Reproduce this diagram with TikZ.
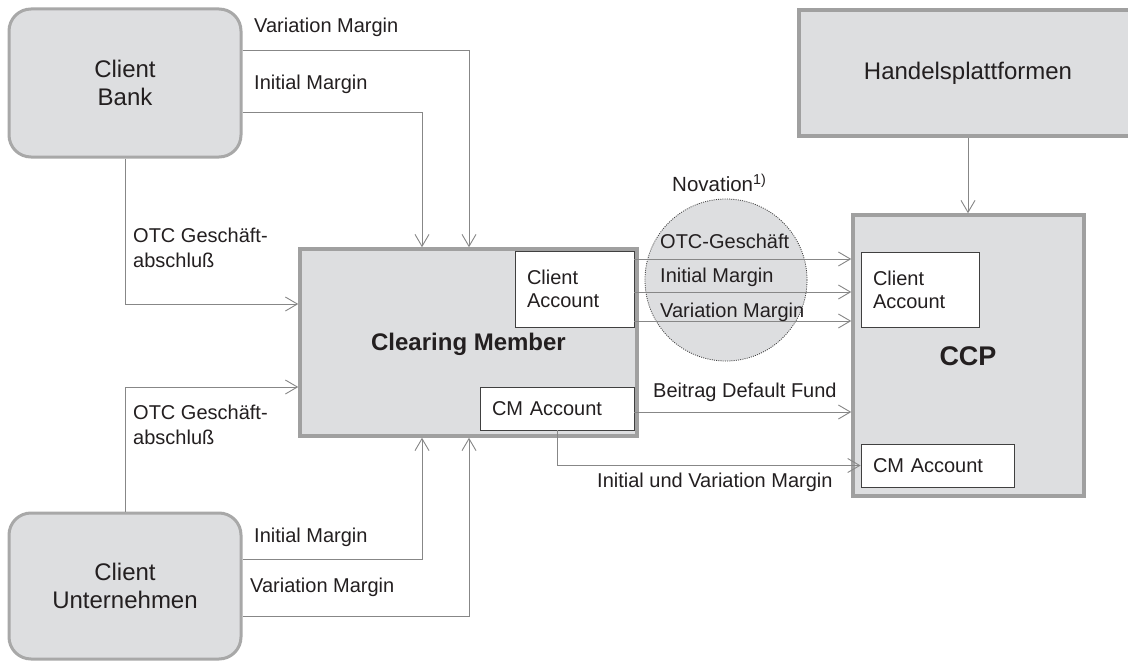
\documentclass[tikz,border=0pt]{standalone}
\usepackage{fontspec}
\setmainfont{Liberation Sans}
\usetikzlibrary{arrows.meta}
\definecolor{boxfill}{RGB}{221,222,224}
\definecolor{rbord}{RGB}{168,168,168}
\definecolor{sbord}{RGB}{160,160,160}
\definecolor{lin}{RGB}{135,135,135}
\definecolor{txt}{RGB}{35,31,32}
\tikzset{
  rbox/.style={draw=rbord, line width=3pt, fill=boxfill, rounded corners=22pt,
    minimum width=232pt, minimum height=148pt, align=center,
    font=\fontsize{24}{28.5}\selectfont, text=txt},
  sbox/.style={draw=sbord, line width=3.5pt, fill=boxfill, text=txt},
  acct/.style={draw=black!75, line width=0.8pt, fill=white, align=left,
    inner xsep=12pt, inner ysep=0pt, font=\fontsize{20}{23}\selectfont, text=txt},
  lbl/.style={anchor=west, inner sep=0pt, font=\fontsize{20}{25}\selectfont,
    text=txt, align=left},
  arr/.style={draw=lin, line width=0.9pt, -{Straight Barb[length=12pt,width=14pt]}}
}
\begin{document}
\begin{tikzpicture}[x=1pt,y=-1pt]
\clip (0,0) rectangle (1128,661);
\fill[white] (0,0) rectangle (1128,661);

% main boxes
\node[rbox] (cb) at (125,83) {Client\\Bank};
\node[rbox, minimum height=146pt] (cu) at (125,586) {Client\\Unternehmen};
\node[sbox, minimum width=337pt, minimum height=187pt] (cm) at (468.5,342.5) {};
\node[text=txt, font=\bfseries\fontsize{24}{28}\selectfont, inner sep=0pt] (cmlbl) at (468.5,344) {Clearing Member};
\node[acct, text width=95pt, minimum height=76pt] (ca1) at (574.5,289) {Client\\Account};
\node[acct, text width=130pt, minimum height=43pt] (cma1) at (557,408.5) {CM Account};

\node[sbox, minimum width=231pt, minimum height=281pt] (ccp) at (968.5,355.5) {};
\node[text=txt, font=\bfseries\fontsize{27}{30}\selectfont, inner sep=0pt] (ccplbl) at (968,356) {CCP};
\node[acct, text width=94pt, minimum height=75pt] (ca2) at (920,289.5) {Client\\Account};
\node[acct, text width=129pt, minimum height=43pt] (cma2) at (937.5,465.5) {CM Account};

\node[sbox, minimum width=338pt, minimum height=126pt, font=\fontsize{24}{28}\selectfont] (hp) at (968,73) {Handelsplattformen};

% novation circle
\node[circle, minimum size=162pt, draw=black!75, fill=boxfill, line width=0.8pt,
  dash pattern=on 1pt off 1.2pt] (nov) at (726,280) {};
\node[lbl, font=\fontsize{20.5}{24}\selectfont] (novlbl) at (672,183) {Novation\textsuperscript{1)}};

% connectors from Client Bank
\draw[arr] (cb.east |- 0,50) -| (469,0 |- cm.north);
\draw[arr] (cb.east |- 0,112) -| (422,0 |- cm.north);
\draw[arr] (cb.south) |- (cm.west |- 0,304);
% connectors from Client Unternehmen
\draw[arr] (cu.north) |- (cm.west |- 0,387);
\draw[arr] (cu.east |- 0,559) -| (422,0 |- cm.south);
\draw[arr] (cu.east |- 0,616) -| (469,0 |- cm.south);
% Clearing Member to CCP
\draw[arr] (ca1.east |- 0,259) -- (ccp.west |- 0,259);
\draw[arr] (ca1.east |- 0,292) -- (ccp.west |- 0,292);
\draw[arr] (ca1.east |- 0,321) -- (ccp.west |- 0,321);
\draw[arr] (cma1.east |- 0,412) -- (ccp.west |- 0,412);
\draw[arr] (cma1.south) |- (cma2.west);
\draw[arr] (hp.south) -- (ccp.north -| hp.south);

% labels
\node[lbl] (l1) at (254,27) {Variation Margin};
\node[lbl] (l2) at (254,84) {Initial Margin};
\node[lbl] (l3) at (133,248) {OTC Geschäft-\\abschluß};
\node[lbl] (l4) at (133,425) {OTC Geschäft-\\abschluß};
\node[lbl] (l5) at (254,537) {Initial Margin};
\node[lbl] (l6) at (250,587) {Variation Margin};
\node[lbl] (l7) at (660,241) {OTC-Geschäft};
\node[lbl] (l8) at (660,277) {Initial Margin};
\node[lbl] (l9) at (660,312) {Variation Margin};
\node[lbl] (l10) at (653,392) {Beitrag Default Fund};
\node[lbl] (l11) at (597,482) {Initial und Variation Margin};
\end{tikzpicture}
\end{document}
